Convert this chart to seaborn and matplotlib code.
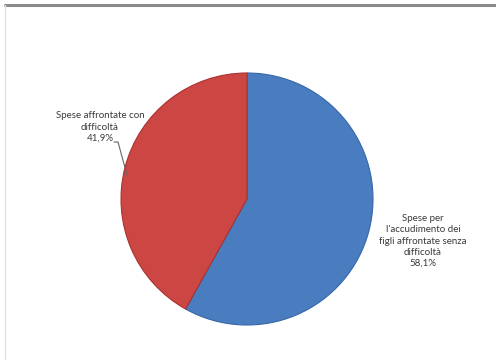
import matplotlib
matplotlib.use("Agg")
import matplotlib.pyplot as plt
import seaborn as sns
from matplotlib.lines import Line2D

sns.set_style("white")
plt.rcParams['font.family'] = ['Lato', 'DejaVu Sans']

categories = ["Spese per\nl'accudimento dei\nfigli affrontate senza\ndifficoltà",
              "Spese affrontate con\ndifficoltà"]
values = [58.1, 41.9]
value_labels = ["58,1%", "41,9%"]
colors = ["#4a7cc0", "#cc4744"]
edge_colors = ["#3567a8", "#a8322f"]

W, H = 496, 360
fig = plt.figure(figsize=(W / 100, H / 100), dpi=100)
fig.patch.set_facecolor("white")

cx, cy, r = 247, 199, 126
ax = fig.add_axes([(cx - r) / W, (H - cy - r) / H, 2 * r / W, 2 * r / H])
wedges, _ = ax.pie(values, colors=colors, startangle=90, counterclock=False,
                   radius=1.0, wedgeprops=dict(linewidth=0.8))
for w, ec in zip(wedges, edge_colors):
    w.set_edgecolor(ec)
ax.set_xlim(-1, 1)
ax.set_ylim(-1, 1)
ax.set_aspect("equal")
ax.axis("off")


def d(px, py):
    return ((px - cx) / r, (cy - py) / r)


# right label
tx, ty = d(423, 241)
ax.text(tx, ty, categories[0] + "\n" + value_labels[0], ha="center", va="center",
        fontsize=7.0, color="#3a3a3a", linespacing=1.32, clip_on=False)
# left label
tx, ty = d(100, 127)
ax.text(tx, ty, categories[1] + "\n" + value_labels[1], ha="center", va="center",
        fontsize=7.0, color="#3a3a3a", linespacing=1.32, clip_on=False)
# leader line
p1 = d(114, 142)
p2 = d(118, 142)
p3 = d(127, 175)
ax.add_line(Line2D([p1[0], p2[0], p3[0]], [p1[1], p2[1], p3[1]],
                   color="#666666", lw=0.8, clip_on=False))

# frame lines
fig.add_artist(Line2D([5 / W, 1], [1 - 5 / H, 1 - 5 / H], color="#8a8a8a", lw=2.2,
                      transform=fig.transFigure))
fig.add_artist(Line2D([5 / W, 5 / W], [0, 1 - 5 / H], color="#e2e2e2", lw=1.0,
                      transform=fig.transFigure))

fig.savefig("out.png", dpi=100, facecolor="white")
